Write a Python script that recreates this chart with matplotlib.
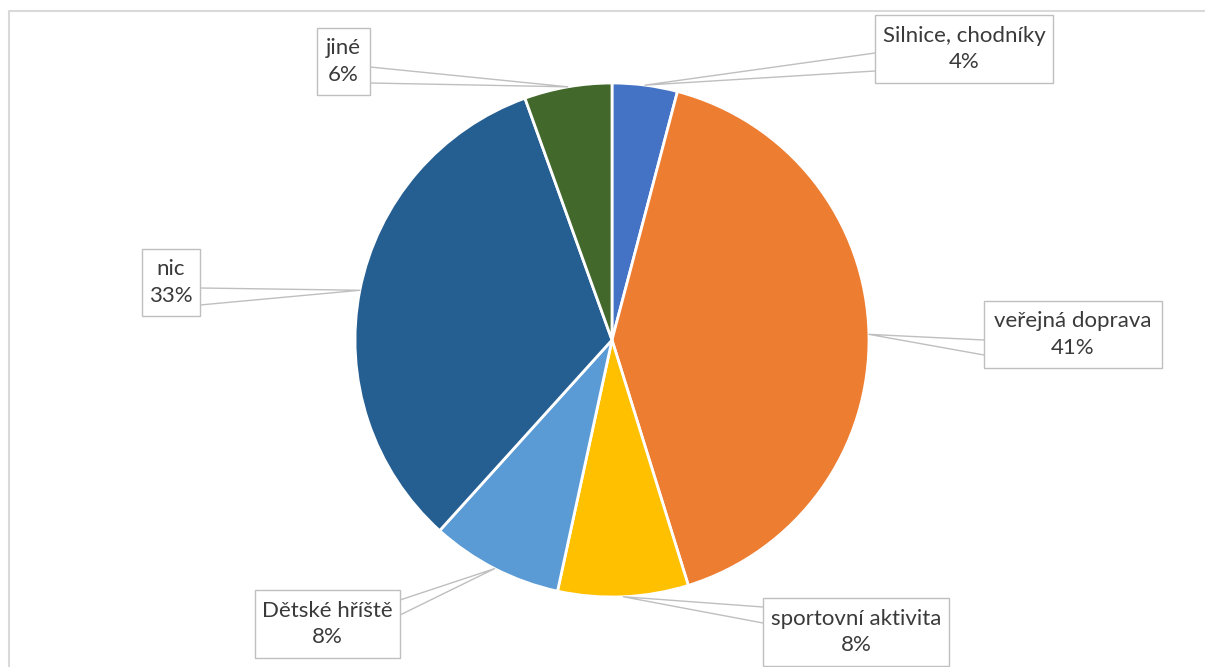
import matplotlib.pyplot as plt
from matplotlib.patches import Rectangle
import numpy as np

labels = ['Silnice, chodníky', 'veřejná doprava', 'sportovní aktivita',
          'Dětské hříště', 'nic', 'jiné']
shares = [4.1, 41.1, 8.2, 8.3, 32.8, 5.5]
pct_text = ['4%', '41%', '8%', '8%', '33%', '6%']
colors = ['#4472C4', '#ED7D31', '#FFC000', '#5B9BD5', '#255E91', '#43682B']

# label boxes in pixels: left, top, width, height, leader side, leader y1, y2
boxes = [
    (875, 15, 178, 68, 'L', 53, 71),
    (984, 301, 178, 67, 'L', 340, 355),
    (763, 598, 186, 68, 'L', 607, 623),
    (255, 590, 145, 68, 'R', 600, 615),
    (142, 249, 58, 67, 'R', 288, 305),
    (317, 28, 53, 67, 'R', 67, 83),
]

W, H = 1205, 667
fig = plt.figure(figsize=(W / 100, H / 100), dpi=100)
ax = fig.add_axes([0, 0, 1, 1])

wedges, _ = ax.pie(shares, colors=colors, startangle=-90, counterclock=True,
                   center=(612, 340), radius=257,
                   wedgeprops=dict(edgecolor='white', linewidth=2))
ax.set_xlim(0, W)
ax.set_ylim(H, 0)
ax.set_aspect('equal')
ax.axis('off')

# chart area frame (only top and left visible in the crop)
ax.plot([9, 9, W], [H, 11, 11], color='#D9D9D9', lw=1.5, clip_on=False)

for w, lab, pct, b in zip(wedges, labels, pct_text, boxes):
    left, top, bw, bh, side, y1, y2 = b
    mid = np.deg2rad((w.theta1 + w.theta2) / 2)
    px = w.center[0] + w.r * np.cos(mid)
    py = w.center[1] + w.r * np.sin(mid)
    sx = left if side == 'L' else left + bw
    ax.plot([sx, px, sx], [y1, py, y2], color='#BFBFBF', lw=1)
    ax.add_patch(Rectangle((left, top), bw, bh, facecolor='white',
                           edgecolor='#BFBFBF', lw=1, zorder=3))
    ax.text(left + bw / 2, top + bh / 2, lab + '\n' + pct, ha='center', va='center',
            fontsize=16, family='Lato', color='#3A3A3A', linespacing=1.4, zorder=4)

fig.savefig('out.png', dpi=100, facecolor='white')
